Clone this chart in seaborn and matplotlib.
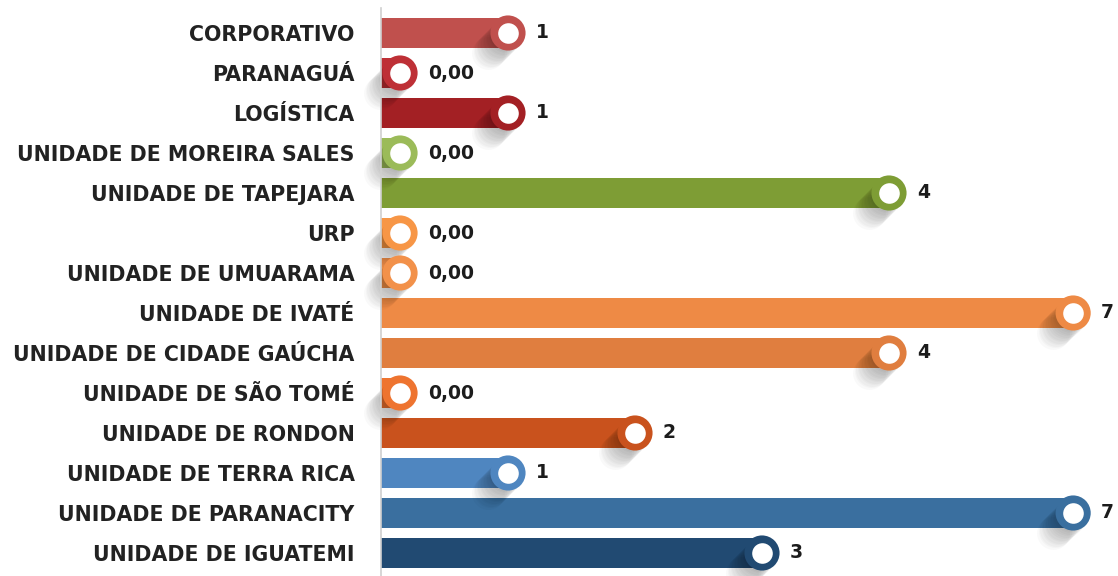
import matplotlib
matplotlib.use("Agg")
import matplotlib.pyplot as plt
import matplotlib.transforms as mtransforms
import seaborn as sns
import numpy as np
import pandas as pd

categorias = ["CORPORATIVO", "PARANAGUÁ", "LOGÍSTICA", "UNIDADE DE MOREIRA SALES",
              "UNIDADE DE TAPEJARA", "URP", "UNIDADE DE UMUARAMA", "UNIDADE DE IVATÉ",
              "UNIDADE DE CIDADE GAÚCHA", "UNIDADE DE SÃO TOMÉ", "UNIDADE DE RONDON",
              "UNIDADE DE TERRA RICA", "UNIDADE DE PARANACITY", "UNIDADE DE IGUATEMI"]
valores = [1, 0, 1, 0, 4, 0, 0, 7, 4, 0, 2, 1, 7, 3]
rotulos = ["1", "0,00", "1", "0,00", "4", "0,00", "0,00", "7", "4", "0,00", "2", "1", "7", "3"]
cores = ["#C0504D", "#BE3036", "#A32024", "#9BBB59", "#7E9D35", "#F79646", "#F2914A",
         "#EE8A45", "#E07E3F", "#EE7430", "#C9521D", "#4F86C0", "#3A6F9F", "#214A72"]

EIXO_MAX = 5.45      # bars beyond this value are truncated at the edge
EIXO_MIN_CAP = 0.15  # minimum position of the round cap

sns.set_theme(style="white")
plt.rcParams["font.family"] = ["DejaVu Sans"]

fig = plt.figure(figsize=(11.18, 5.76), dpi=100)
ax = fig.add_axes([381 / 1118, 0.0, 1 - 381 / 1118, 1 - 8 / 576])

exib = np.clip(np.array(valores, dtype=float), EIXO_MIN_CAP, EIXO_MAX)
df = pd.DataFrame({"cat": categorias, "v": exib})

sns.barplot(data=df, x="v", y="cat", hue="cat", palette=cores, legend=False,
            orient="h", width=0.76, ax=ax, saturation=1, linewidth=0, zorder=2)

ax.set_xlim(0, (1118 - 381) / 127)
ax.set_ylim(13.575, -0.625)

ys = np.arange(len(categorias))
# soft shadow smear down-left from cap
for i in range(1, 14):
    tr = mtransforms.offset_copy(ax.transData, fig=fig, x=-i * 1.1, y=-i * 1.1, units="points")
    ax.scatter(exib, ys, s=560, color="black", alpha=0.025, linewidths=0,
               transform=tr, zorder=3, clip_on=False)
# caps
ax.scatter(exib, ys, s=640, c=cores, linewidths=0, zorder=4, clip_on=False)
ax.scatter(exib, ys, s=220, color="white", linewidths=0, zorder=5, clip_on=False)

for x, y, t in zip(exib, ys, rotulos):
    ax.annotate(t, (x, y), xytext=(20, 0), textcoords="offset points",
                ha="left", va="center", fontsize=13.5, fontweight="bold",
                color="#1c1c1c", annotation_clip=False)

ax.set_xlabel("")
ax.set_ylabel("")
ax.set_xticks([])
ax.tick_params(axis="y", length=0, pad=19)
for lab in ax.get_yticklabels():
    lab.set_fontsize(14.8)
    lab.set_fontweight("bold")
    lab.set_color("#222222")
for s in ["top", "right", "bottom"]:
    ax.spines[s].set_visible(False)
ax.spines["left"].set_color("#cfcfcf")
ax.spines["left"].set_linewidth(1.2)
ax.spines["left"].set_zorder(6)

fig.savefig("out.png", dpi=100)
